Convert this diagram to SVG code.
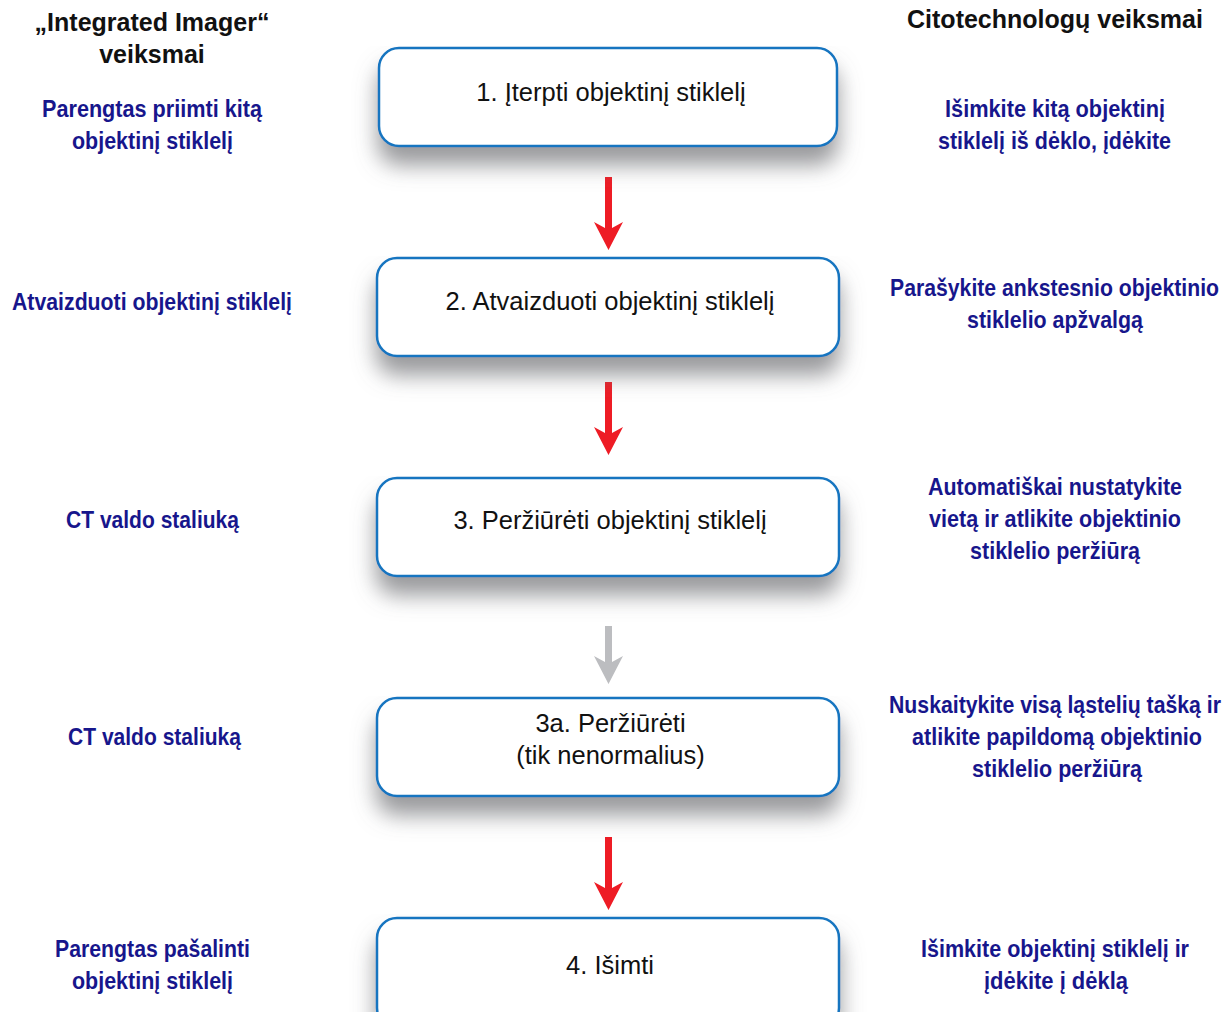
<svg xmlns="http://www.w3.org/2000/svg" width="1231" height="1012" viewBox="0 0 1231 1012">
<defs>
<filter id="sh" x="-10%" y="-20%" width="120%" height="200%">
<feGaussianBlur in="SourceAlpha" stdDeviation="11"/>
<feOffset dy="18" result="b"/>
<feFlood flood-color="#6d6e72" flood-opacity="0.7"/>
<feComposite in2="b" operator="in" result="s"/>
<feMerge><feMergeNode in="s"/><feMergeNode in="SourceGraphic"/></feMerge>
</filter>
<style>
.box{fill:#fff;stroke:#1474c0;stroke-width:2.5}
.bt{font-family:"Liberation Sans",Arial,sans-serif;font-size:25.5px;fill:#111;text-anchor:middle}
.hd{font-family:"Liberation Sans",Arial,sans-serif;font-size:25px;font-weight:bold;fill:#111;text-anchor:middle}
.lb{font-family:"Liberation Sans",Arial,sans-serif;font-size:24px;font-weight:bold;fill:#17168c;text-anchor:middle}
.red{fill:#ee1c25}
.gry{fill:#bcbdc0}
</style>
</defs>
<rect width="1231" height="1012" fill="#fff"/>
<g id="connectors">
<path class="red" d="M605,177 H612 V228 L623,222 L608.5,250 L594,222 L605,228 Z"/>
<path class="red" d="M605,382 H612 V433 L623,427 L608.5,455 L594,427 L605,433 Z"/>
<path class="gry" d="M605,626 H612 V662 L623,656 L608.5,684 L594,656 L605,662 Z"/>
<path class="red" d="M605,837 H612 V888 L623,882 L608.5,910 L594,882 L605,888 Z"/>
</g>
<g id="header-left"><text class="hd" x="152" y="31">„Integrated Imager“</text><text class="hd" x="152" y="63">veiksmai</text></g>
<g id="header-right"><text class="hd" x="1055" y="28">Citotechnologų veiksmai</text></g>
<g id="step1"><rect class="box" filter="url(#sh)" x="379" y="48" width="458" height="98" rx="20"/><text class="bt" x="611" y="101">1. Įterpti objektinį stiklelį</text></g>
<g id="step2"><rect class="box" filter="url(#sh)" x="377" y="258" width="462" height="98" rx="20"/><text class="bt" x="610" y="310">2. Atvaizduoti objektinį stiklelį</text></g>
<g id="step3"><rect class="box" filter="url(#sh)" x="377" y="478" width="462" height="98" rx="20"/><text class="bt" x="610" y="529">3. Peržiūrėti objektinį stiklelį</text></g>
<g id="step3a"><rect class="box" filter="url(#sh)" x="377" y="698" width="462" height="98" rx="20"/><text class="bt" x="610.5" y="732">3a. Peržiūrėti</text><text class="bt" x="610.5" y="764">(tik nenormalius)</text></g>
<g id="step4"><rect class="box" filter="url(#sh)" x="377" y="918" width="462" height="110" rx="20"/><text class="bt" x="610" y="974">4. Išimti</text></g>
<g id="left-labels">
<text class="lb" x="152" y="117" textLength="220" lengthAdjust="spacingAndGlyphs">Parengtas priimti kitą</text><text class="lb" x="152.5" y="149" textLength="161" lengthAdjust="spacingAndGlyphs">objektinį stiklelį</text>
<text class="lb" x="152" y="310" textLength="280" lengthAdjust="spacingAndGlyphs">Atvaizduoti objektinį stiklelį</text>
<text class="lb" x="152.5" y="528" textLength="173" lengthAdjust="spacingAndGlyphs">CT valdo staliuką</text>
<text class="lb" x="154.5" y="745" textLength="173" lengthAdjust="spacingAndGlyphs">CT valdo staliuką</text>
<text class="lb" x="152.5" y="957" textLength="195" lengthAdjust="spacingAndGlyphs">Parengtas pašalinti</text><text class="lb" x="152.5" y="989" textLength="161" lengthAdjust="spacingAndGlyphs">objektinį stiklelį</text>
</g>
<g id="right-labels">
<text class="lb" x="1055" y="117" textLength="220" lengthAdjust="spacingAndGlyphs">Išimkite kitą objektinį</text><text class="lb" x="1054.5" y="149" textLength="233" lengthAdjust="spacingAndGlyphs">stiklelį iš dėklo, įdėkite</text>
<text class="lb" x="1054.5" y="296" textLength="329" lengthAdjust="spacingAndGlyphs">Parašykite ankstesnio objektinio</text><text class="lb" x="1055" y="328" textLength="176" lengthAdjust="spacingAndGlyphs">stiklelio apžvalgą</text>
<text class="lb" x="1055" y="495" textLength="254" lengthAdjust="spacingAndGlyphs">Automatiškai nustatykite</text><text class="lb" x="1055" y="527" textLength="252" lengthAdjust="spacingAndGlyphs">vietą ir atlikite objektinio</text><text class="lb" x="1055" y="559" textLength="170" lengthAdjust="spacingAndGlyphs">stiklelio peržiūrą</text>
<text class="lb" x="1055" y="713" textLength="332" lengthAdjust="spacingAndGlyphs">Nuskaitykite visą ląstelių tašką ir</text><text class="lb" x="1057" y="745" textLength="290" lengthAdjust="spacingAndGlyphs">atlikite papildomą objektinio</text><text class="lb" x="1057" y="777" textLength="170" lengthAdjust="spacingAndGlyphs">stiklelio peržiūrą</text>
<text class="lb" x="1055" y="957" textLength="268" lengthAdjust="spacingAndGlyphs">Išimkite objektinį stiklelį ir</text><text class="lb" x="1056" y="989" textLength="144" lengthAdjust="spacingAndGlyphs">įdėkite į dėklą</text>
</g>
</svg>
